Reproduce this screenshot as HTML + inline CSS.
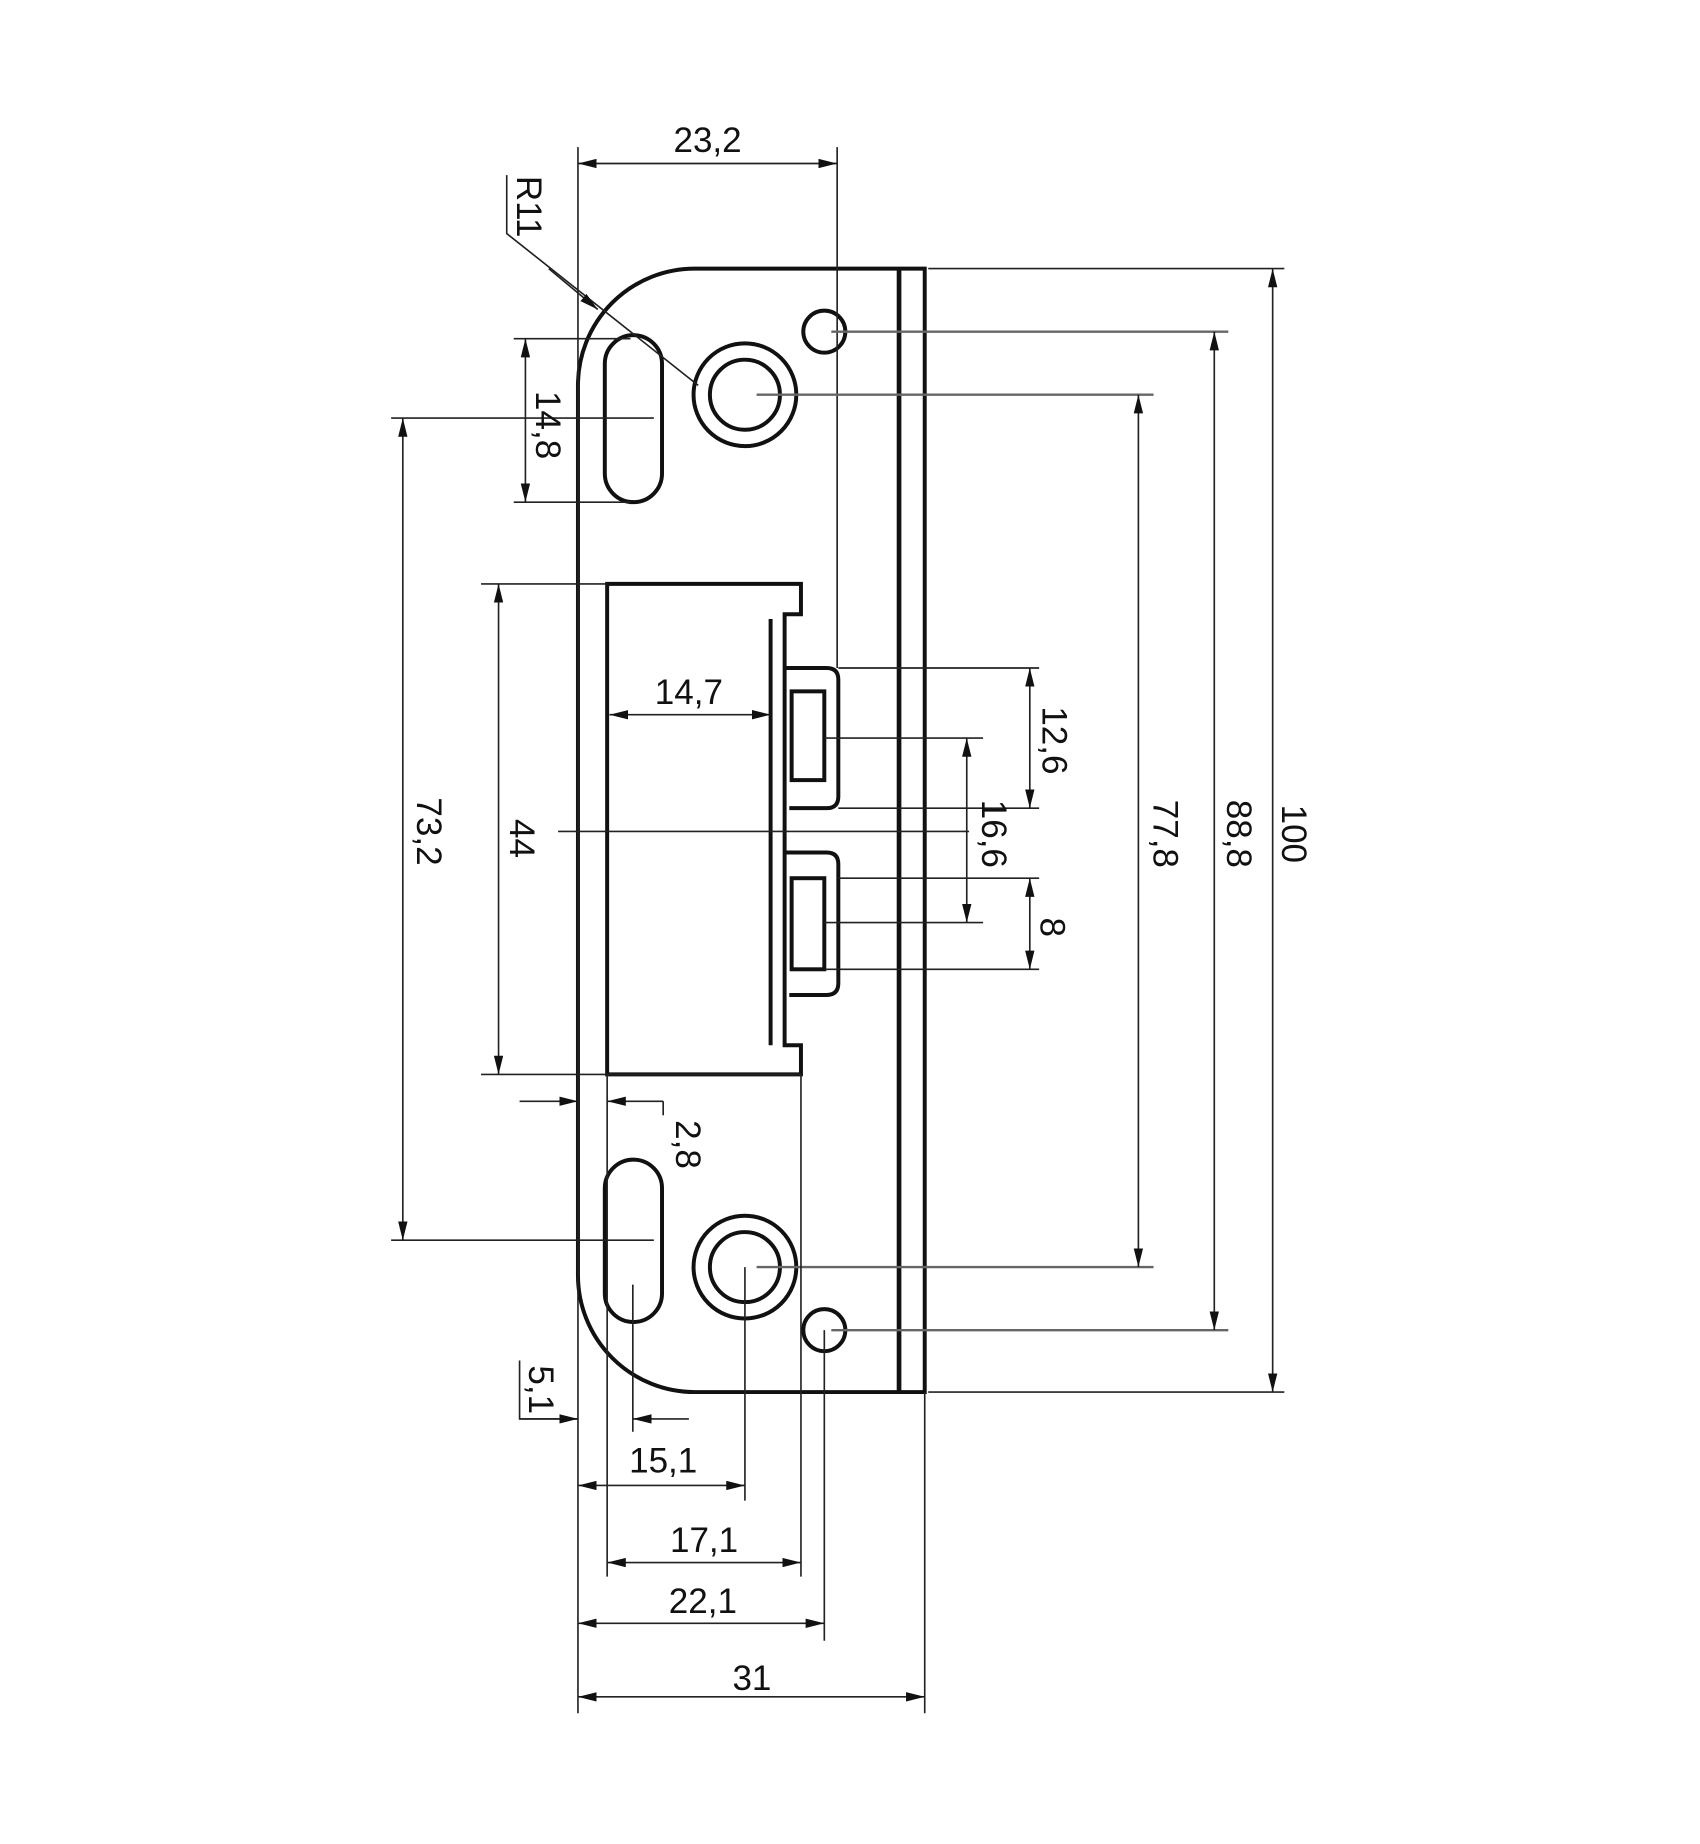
<!DOCTYPE html>
<html><head><meta charset="utf-8"><style>html,body{margin:0;padding:0;background:#fff}svg{display:block}</style></head>
<body>
<svg width="1700" height="1844" viewBox="0 0 1456 1579" preserveAspectRatio="none" xmlns="http://www.w3.org/2000/svg">
<defs>
<marker id="a" viewBox="0 0 16 8" refX="16" refY="4" markerWidth="16" markerHeight="8" markerUnits="userSpaceOnUse" orient="auto-start-reverse"><path d="M0,0 L16,4 L0,8 Z" fill="#111"/></marker>
</defs>
<rect width="1456" height="1579" fill="#fff"/>
<g fill="none" stroke="#111" stroke-width="3.4">
<path d="M595,230 H792 V1192 H595 A100,100 0 0 1 495,1092 V330 A100,100 0 0 1 595,230 Z"/>
<line x1="770" y1="230" x2="770" y2="1192" stroke-width="4"/>
<rect x="518" y="287" width="49" height="143" rx="24.5"/>
<rect x="518" y="993" width="49" height="139" rx="24.5"/>
<circle cx="638" cy="338" r="44"/><circle cx="638" cy="338" r="30"/>
<circle cx="638" cy="1085" r="44"/><circle cx="638" cy="1085" r="30"/>
<circle cx="706" cy="284" r="18"/><circle cx="706" cy="1139" r="18"/>
<path d="M520,500 H686 V526 H672 V895 H686 V920 H520 Z"/>
<line x1="660" y1="530" x2="660" y2="895"/>
<path d="M672,572 H708 Q718,572 718,582 V682 Q718,692 708,692 H676"/>
<rect x="678" y="592" width="28" height="76"/>
<path d="M672,730 H708 Q718,730 718,740 V842 Q718,852 708,852 H676"/>
<rect x="678" y="752" width="28" height="78"/>
</g>
<g fill="none" stroke="#222" stroke-width="1.4">
<line x1="495" y1="126" x2="495" y2="1467"/>
<line x1="717" y1="126" x2="717" y2="572"/>
<line x1="495" y1="140" x2="717" y2="140" marker-start="url(#a)" marker-end="url(#a)"/>
<polyline points="434,150 434,200 598,330"/>
<line x1="470" y1="230" x2="512" y2="265" marker-end="url(#a)"/>
<line x1="440" y1="290" x2="540" y2="290"/><line x1="440" y1="430" x2="540" y2="430"/>
<line x1="450" y1="290" x2="450" y2="430" marker-start="url(#a)" marker-end="url(#a)"/>
<line x1="335" y1="358" x2="560" y2="358"/><line x1="335" y1="1062" x2="560" y2="1062"/>
<line x1="345" y1="358" x2="345" y2="1062" marker-start="url(#a)" marker-end="url(#a)"/>
<line x1="412" y1="500" x2="520" y2="500"/><line x1="412" y1="920" x2="686" y2="920"/>
<line x1="427" y1="500" x2="427" y2="920" marker-start="url(#a)" marker-end="url(#a)"/>
<line x1="478" y1="712" x2="830" y2="712"/>
<line x1="522" y1="612" x2="660" y2="612" marker-start="url(#a)" marker-end="url(#a)"/>
<line x1="718" y1="572" x2="890" y2="572"/><line x1="718" y1="692" x2="890" y2="692"/>
<line x1="882" y1="572" x2="882" y2="692" marker-start="url(#a)" marker-end="url(#a)"/>
<line x1="706" y1="632" x2="842" y2="632"/><line x1="706" y1="790" x2="842" y2="790"/>
<line x1="828" y1="632" x2="828" y2="790" marker-start="url(#a)" marker-end="url(#a)"/>
<line x1="718" y1="752" x2="890" y2="752"/><line x1="706" y1="830" x2="890" y2="830"/>
<line x1="882" y1="752" x2="882" y2="830" marker-start="url(#a)" marker-end="url(#a)"/>
<line x1="648" y1="338" x2="988" y2="338" stroke="#666" stroke-width="2"/><line x1="648" y1="1085" x2="988" y2="1085" stroke="#666" stroke-width="2"/>
<line x1="975" y1="338" x2="975" y2="1085" marker-start="url(#a)" marker-end="url(#a)"/>
<line x1="712" y1="284" x2="1052" y2="284" stroke="#666" stroke-width="2"/><line x1="712" y1="1139" x2="1052" y2="1139" stroke="#666" stroke-width="2"/>
<line x1="1040" y1="284" x2="1040" y2="1139" marker-start="url(#a)" marker-end="url(#a)"/>
<line x1="795" y1="230" x2="1100" y2="230"/><line x1="795" y1="1192" x2="1100" y2="1192"/>
<line x1="1090" y1="230" x2="1090" y2="1192" marker-start="url(#a)" marker-end="url(#a)"/>
<line x1="520" y1="920" x2="520" y2="1350"/>
<line x1="445" y1="943" x2="495" y2="943" marker-end="url(#a)"/>
<line x1="568" y1="943" x2="520" y2="943" marker-end="url(#a)"/>
<line x1="568" y1="943" x2="568" y2="955"/>
<line x1="542" y1="1100" x2="542" y2="1226"/>
<polyline points="445,1165 445,1215 495,1215"/>
<line x1="445" y1="1215" x2="495" y2="1215" marker-end="url(#a)"/>
<line x1="590" y1="1215" x2="542" y2="1215" marker-end="url(#a)"/>
<line x1="638" y1="1085" x2="638" y2="1285"/>
<line x1="495" y1="1272" x2="638" y2="1272" marker-start="url(#a)" marker-end="url(#a)"/>
<line x1="686" y1="920" x2="686" y2="1350"/>
<line x1="520" y1="1338" x2="686" y2="1338" marker-start="url(#a)" marker-end="url(#a)"/>
<line x1="706" y1="1139" x2="706" y2="1405"/>
<line x1="495" y1="1390" x2="706" y2="1390" marker-start="url(#a)" marker-end="url(#a)"/>
<line x1="792" y1="1192" x2="792" y2="1467"/>
<line x1="495" y1="1453" x2="792" y2="1453" marker-start="url(#a)" marker-end="url(#a)"/>
</g>
<g font-family="Liberation Sans, sans-serif" font-size="30" fill="#111" text-anchor="middle">
<text x="606" y="130">23,2</text>
<text x="590" y="603">14,7</text>
<text x="568" y="1261">15,1</text>
<text x="603" y="1329">17,1</text>
<text x="602" y="1381">22,1</text>
<text x="644" y="1447">31</text>
<text transform="translate(443,177) rotate(90)">R11</text>
<text transform="translate(459,364) rotate(90)">14,8</text>
<text transform="translate(357,712) rotate(90)">73,2</text>
<text transform="translate(437,718) rotate(90)">44</text>
<text transform="translate(893,634) rotate(90)">12,6</text>
<text transform="translate(841,714) rotate(90)">16,6</text>
<text transform="translate(891,794) rotate(90)">8</text>
<text transform="translate(988,714) rotate(90)">77,8</text>
<text transform="translate(1051,714) rotate(90)">88,8</text>
<text transform="translate(1098,714) rotate(90)">100</text>
<text transform="translate(579,980) rotate(90)">2,8</text>
<text transform="translate(453,1190) rotate(90)">5,1</text>
</g>
</svg>
</body></html>
